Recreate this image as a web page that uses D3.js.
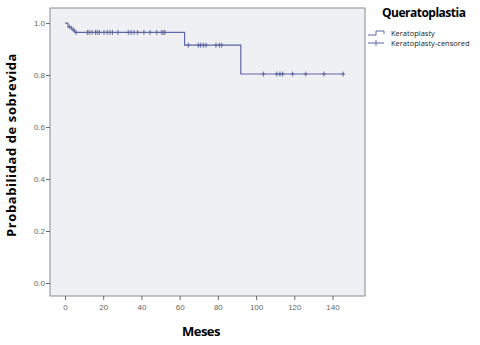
<!DOCTYPE html>
<html>
<head>
<meta charset="utf-8">
<script src="https://cdn.jsdelivr.net/npm/d3@7"></script>
<style>
  body { margin:0; background:#fff; }
  svg text { font-family: "Open Sans", Arial, sans-serif; }
</style>
</head>
<body>
<div id="chart"></div>
<script>
// survival steps (time in months, survival after the event)
const stepTimes  = [0, 1.5, 3.5, 5, 62.6, 92];
const stepLevels = [1.0, 0.985, 0.975, 0.964, 0.915, 0.804];
const endTime = 145.6;

// censored observations (months)
const censored = [2.5, 4.3, 5.8, 11.7, 12.7, 14.1, 16, 16.9, 18, 20.4, 22.1, 23.5, 24.8, 27.7,
  33.1, 34.5, 36.1, 38, 41.3, 44.5, 48, 50.6, 51.4, 52.3,
  64.5, 69.8, 71, 72.4, 73.8, 79, 80.8, 82,
  103.8, 110.8, 112.5, 113.9, 119.1, 126, 135.5, 145.6];

const xTicks = [0, 20, 40, 60, 80, 100, 120, 140];
const yTicks = [0.0, 0.2, 0.4, 0.6, 0.8, 1.0];

const W = 480, H = 345;
const plot = {left:50, top:8, right:365, bottom:296};
const lineColor = "#5b67a6";

const svg = d3.select("#chart").append("svg").attr("width", W).attr("height", H);

const x = d3.scaleLinear().domain([-7.85, 157]).range([plot.left, plot.right]);
const y = d3.scaleLinear().domain([-0.05, 1.058]).range([plot.bottom, plot.top]);

svg.append("rect")
  .attr("x", plot.left).attr("y", plot.top)
  .attr("width", plot.right - plot.left).attr("height", plot.bottom - plot.top)
  .attr("fill", "#eff0f3").attr("stroke", "#8a8a8a").attr("stroke-width", 1);

// axes
const xAxis = svg.append("g")
  .attr("transform", `translate(0,${plot.bottom})`)
  .call(d3.axisBottom(x).tickValues(xTicks).tickSize(4).tickSizeOuter(0).tickFormat(d3.format("d")));
const yAxis = svg.append("g")
  .attr("transform", `translate(${plot.left},0)`)
  .call(d3.axisLeft(y).tickValues(yTicks).tickSize(4).tickSizeOuter(0).tickFormat(d3.format(".1f")));
[xAxis, yAxis].forEach(a => {
  a.select(".domain").remove();
  a.selectAll(".tick line").attr("stroke", "#666");
  a.selectAll(".tick text").attr("fill", "#666").style("font-size", "8px")
    .style("font-family", "Arial, 'Liberation Sans', sans-serif");
});
xAxis.selectAll(".tick text").attr("dy", "0.9em");
yAxis.selectAll(".tick text").attr("x", -5);

// step curve
const pts = [];
stepTimes.forEach((t, i) => {
  if (i > 0) pts.push([t, stepLevels[i - 1]]);
  pts.push([t, stepLevels[i]]);
});
pts.push([endTime, stepLevels[stepLevels.length - 1]]);

svg.append("path")
  .datum(pts)
  .attr("fill", "none")
  .attr("stroke", lineColor)
  .attr("stroke-width", 1.2)
  .attr("d", d3.line().x(d => x(d[0])).y(d => y(d[1])));

function levelAt(t) {
  let lv = stepLevels[0];
  stepTimes.forEach((s, i) => { if (t >= s) lv = stepLevels[i]; });
  return lv;
}

svg.append("g").selectAll("path")
  .data(censored)
  .join("path")
    .attr("d", d => {
      const cx = x(d), cy = y(levelAt(d));
      return `M${cx},${cy - 2.5}V${cy + 2.5}M${cx - 2},${cy}H${cx + 2}`;
    })
    .attr("stroke", lineColor)
    .attr("stroke-width", 1);

// axis titles
svg.append("text")
  .attr("x", 201).attr("y", 336)
  .attr("text-anchor", "middle")
  .style("font-size", "13px").style("font-weight", "bold")
  .style("letter-spacing", "-0.5px")
  .text("Meses");

svg.append("text")
  .attr("transform", "translate(16,145) rotate(-90)")
  .attr("text-anchor", "middle")
  .style("font-size", "13px").style("font-weight", "bold")
  .style("letter-spacing", "0.6px")
  .text("Probabilidad de sobrevida");

// legend
const lg = svg.append("g");
lg.append("text")
  .attr("x", 382).attr("y", 17)
  .style("font-size", "12px").style("font-weight", "bold")
  .style("letter-spacing", "-0.5px")
  .text("Queratoplastia");
lg.append("path")
  .attr("d", "M368,35H376V31H384V34")
  .attr("fill", "none").attr("stroke", lineColor).attr("stroke-width", 1);
lg.append("path")
  .attr("d", "M368,43H384M376,40V46")
  .attr("stroke", lineColor).attr("stroke-width", 1);
lg.append("text").attr("x", 391).attr("y", 35.5)
  .style("font-size", "7.5px").attr("fill", "#222").text("Keratoplasty");
lg.append("text").attr("x", 391).attr("y", 46)
  .style("font-size", "7.5px").attr("fill", "#222").text("Keratoplasty-censored");
</script>
</body>
</html>
